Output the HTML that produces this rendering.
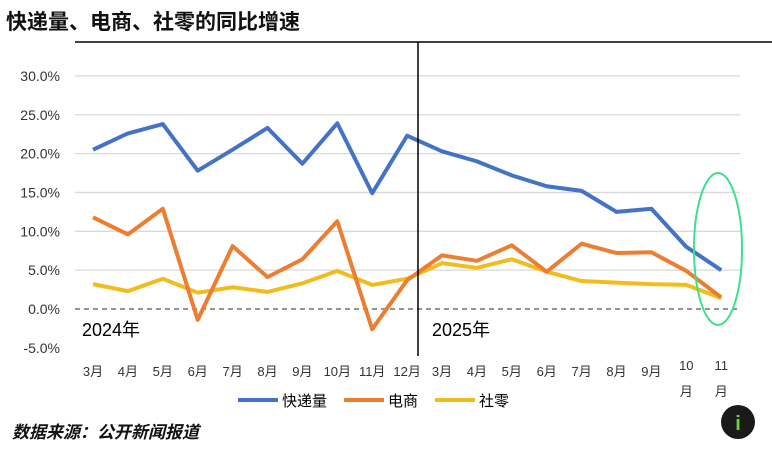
<!DOCTYPE html>
<html><head><meta charset="utf-8"><style>
body{margin:0;background:#fff;width:772px;height:454px;overflow:hidden;font-family:"Liberation Sans","Noto Sans CJK SC",sans-serif}
</style></head><body>
<svg id="c" width="772" height="454" xmlns="http://www.w3.org/2000/svg" font-family="Liberation Sans, Noto Sans CJK SC, sans-serif">
<text x="6" y="29" font-size="21" font-weight="bold" fill="#111">快递量、电商、社零的同比增速</text>
<line x1="75" y1="42" x2="772" y2="42" stroke="#000" stroke-width="1.5"/>
<g id="grid"></g><g id="series"></g><g id="xl"></g>
<line x1="418" y1="42" x2="418" y2="356" stroke="#000" stroke-width="1.5"/>
<text x="82" y="336" font-size="18" fill="#000">2024年</text>
<text x="432" y="336" font-size="18" fill="#000">2025年</text>
<ellipse cx="718" cy="249" rx="24" ry="76" fill="none" stroke="#3de08a" stroke-width="2"/>
<g>
<line x1="238" y1="400" x2="278" y2="400" stroke="#4472c4" stroke-width="4"/>
<text x="282" y="406" font-size="15">快递量</text>
<line x1="344" y1="400" x2="384" y2="400" stroke="#ed7d31" stroke-width="4"/>
<text x="388" y="406" font-size="15">电商</text>
<line x1="435" y1="400" x2="475" y2="400" stroke="#f2bc1c" stroke-width="4"/>
<text x="479" y="406" font-size="15">社零</text>
</g>
<text x="12" y="438" font-size="17" font-weight="bold" font-style="italic" fill="#111">数据来源：公开新闻报道</text>
<circle cx="738" cy="422" r="17" fill="#1a1a1a"/>
<text x="738" y="430" font-size="20" font-weight="bold" fill="#6fd23a" text-anchor="middle">i</text>
</svg>
<script>
const categories=["3月","4月","5月","6月","7月","8月","9月","10月","11月","12月","3月","4月","5月","6月","7月","8月","9月","10月","11月"];
const express=[20.5,22.6,23.8,17.8,20.5,23.3,18.7,23.9,14.9,22.3,20.3,19.0,17.2,15.8,15.2,12.5,12.9,8.0,5.0];
const ecommerce=[11.8,9.6,12.9,-1.4,8.1,4.1,6.4,11.3,-2.6,3.7,6.9,6.2,8.2,4.8,8.4,7.2,7.3,4.9,1.5];
const retail=[3.2,2.3,3.9,2.1,2.8,2.2,3.3,4.9,3.1,3.9,5.9,5.3,6.4,4.8,3.6,3.4,3.2,3.1,1.4];
const yTicks=[30,25,20,15,10,5,0,-5];
const NS="http://www.w3.org/2000/svg";
const x=i=>93+i*34.9;
const y=v=>309-v*7.77;
function mk(t,a,p){const e=document.createElementNS(NS,t);for(const k in a)e.setAttribute(k,a[k]);p.appendChild(e);return e;}
const grid=document.getElementById('grid');
yTicks.forEach(v=>{
  if(v!==0&&v!==-5){const l=mk('line',{x1:75,x2:740,y1:y(v),y2:y(v),stroke:'#d9d9d9','stroke-width':1.3},grid);
  
  }
  const t=mk('text',{x:60,y:y(v)+5,'font-size':14,'text-anchor':'end',fill:'#333'},grid);
  t.textContent=v.toFixed(1)+'%';
  
  
});
const z=mk('line',{x1:75,x2:740,y1:y(0),y2:y(0),stroke:'#555','stroke-width':1.3,'stroke-dasharray':'5,4'},grid);


const xl=document.getElementById('xl');
categories.forEach((c,i)=>{
  if(i>=17){
    const t=mk('text',{x:x(i),y:370,'font-size':13,'text-anchor':'middle',fill:'#333'},xl);
    t.textContent=c.replace('月','');
    
    
    const t2=mk('text',{x:x(i),y:396,'font-size':13,'text-anchor':'middle',fill:'#333'},xl);
    t2.textContent='月';
    
    
  } else {
    const t=mk('text',{x:x(i),y:376,'font-size':13,'text-anchor':'middle',fill:'#333'},xl);
    t.textContent=c;
    
    
  }
});
const sg=document.getElementById('series');
[[retail,'#f2bc1c','retail-line'],[ecommerce,'#ed7d31','ecommerce-line'],[express,'#4472c4','express-line']].forEach(([d,c,n])=>{
  const p=mk('polyline',{points:d.map((v,i)=>x(i)+','+y(v)).join(' '),fill:'none',stroke:c,'stroke-width':4,'stroke-linejoin':'round'},sg);
  
  
});
</script>
</body></html>
